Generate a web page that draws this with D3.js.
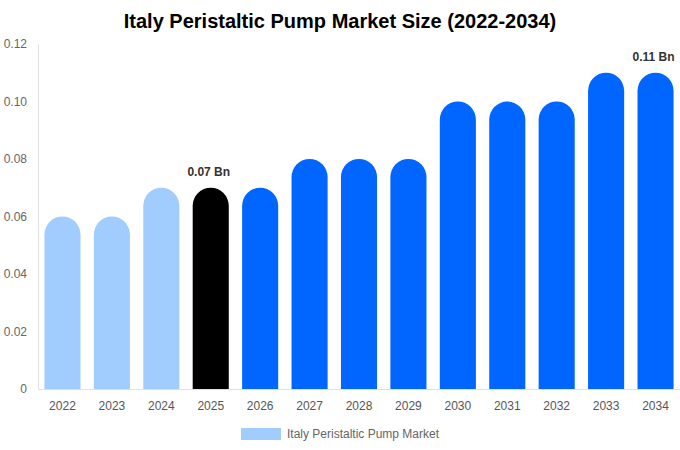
<!DOCTYPE html>
<html>
<head>
<meta charset="utf-8">
<script src="https://cdn.jsdelivr.net/npm/d3@7"></script>
<style>
  body { margin: 0; background: #fff; }
  text { font-family: "Liberation Sans", Arial, sans-serif; }
</style>
</head>
<body>
<svg id="chart"></svg>
<script>
const width = 680
const height = 450

const years = ['2022', '2023', '2024', '2025', '2026', '2027', '2028', '2029', '2030', '2031', '2032', '2033', '2034']
const values = [0.06, 0.06, 0.07, 0.07, 0.07, 0.08, 0.08, 0.08, 0.10, 0.10, 0.10, 0.11, 0.11]
const yTicks = [0, 0.02, 0.04, 0.06, 0.08, 0.10, 0.12]
const labelled = { '2025': '0.07 Bn', '2034': '0.11 Bn' }

const margin = { top: 44, right: 0, bottom: 61, left: 38 }

var svg = d3.select('#chart')
    .attr('width', width)
    .attr('height', height);

var x = d3.scaleBand()
    .domain(years)
    .range([margin.left, width - margin.right])
    .paddingInner(0.27)
    .paddingOuter(0.13);

var y = d3.scaleLinear()
    .domain([0, 0.12])
    .range([height - margin.bottom, margin.top]);

function barColor(yr) {
    if (+yr < 2025) return '#a0cdfd';
    if (+yr === 2025) return '#000000';
    return '#0066ff';
}

// bar path with round top, flat bottom
function barPath(d, i) {
    var x0 = x(d), w = x.bandwidth(), r = w / 2;
    var top = y(values[i]), bottom = y(0);
    return `M${x0},${bottom} L${x0},${top + r} A${r},${r} 0 0 1 ${x0 + w},${top + r} L${x0 + w},${bottom} Z`;
}

// title
svg.append('text')
    .attr('x', width / 2)
    .attr('y', 28)
    .attr('text-anchor', 'middle')
    .attr('font-size', 20)
    .attr('font-weight', 'bold')
    .attr('fill', '#000')
    .text('Italy Peristaltic Pump Market Size (2022-2034)');

// bars
svg.selectAll('path.bar')
    .data(years)
    .enter()
    .append('path')
    .attr('class', 'bar')
    .attr('d', barPath)
    .attr('fill', d => barColor(d));

// value labels
svg.selectAll('text.val')
    .data(years.filter(d => labelled[d]))
    .enter()
    .append('text')
    .attr('class', 'val')
    .attr('x', d => x(d) + x.bandwidth() / 2 - 2)
    .attr('y', d => y(values[years.indexOf(d)]) - 12)
    .attr('text-anchor', 'middle')
    .attr('font-size', 12)
    .attr('font-weight', 'bold')
    .attr('fill', '#333')
    .text(d => labelled[d]);

// axes
var yAxis = svg.append('g')
    .attr('transform', `translate(${margin.left},0)`)
    .call(d3.axisLeft(y).tickValues(yTicks).tickSize(0).tickPadding(11)
        .tickFormat(d => d === 0 ? '0' : d3.format('.2f')(d)));
yAxis.select('.domain').attr('stroke', '#e0e0e0');
yAxis.selectAll('text').attr('font-size', 12).attr('fill', '#666')
    .style('font-family', '"Liberation Sans", Arial, sans-serif');

var xAxis = svg.append('g')
    .attr('transform', `translate(0,${y(0)})`)
    .call(d3.axisBottom(x).tickSize(0).tickPadding(12));
xAxis.select('.domain').attr('stroke', '#e0e0e0');
xAxis.selectAll('text').attr('font-size', 12).attr('fill', '#555')
    .style('font-family', '"Liberation Sans", Arial, sans-serif');

// legend
var legend = svg.append('g').attr('transform', 'translate(241,428)');
legend.append('rect')
    .attr('width', 40)
    .attr('height', 12)
    .attr('fill', '#a0cdfd');
legend.append('text')
    .attr('x', 46)
    .attr('y', 10)
    .attr('font-size', 12)
    .attr('fill', '#666')
    .text('Italy Peristaltic Pump Market');
</script>
</body>
</html>
